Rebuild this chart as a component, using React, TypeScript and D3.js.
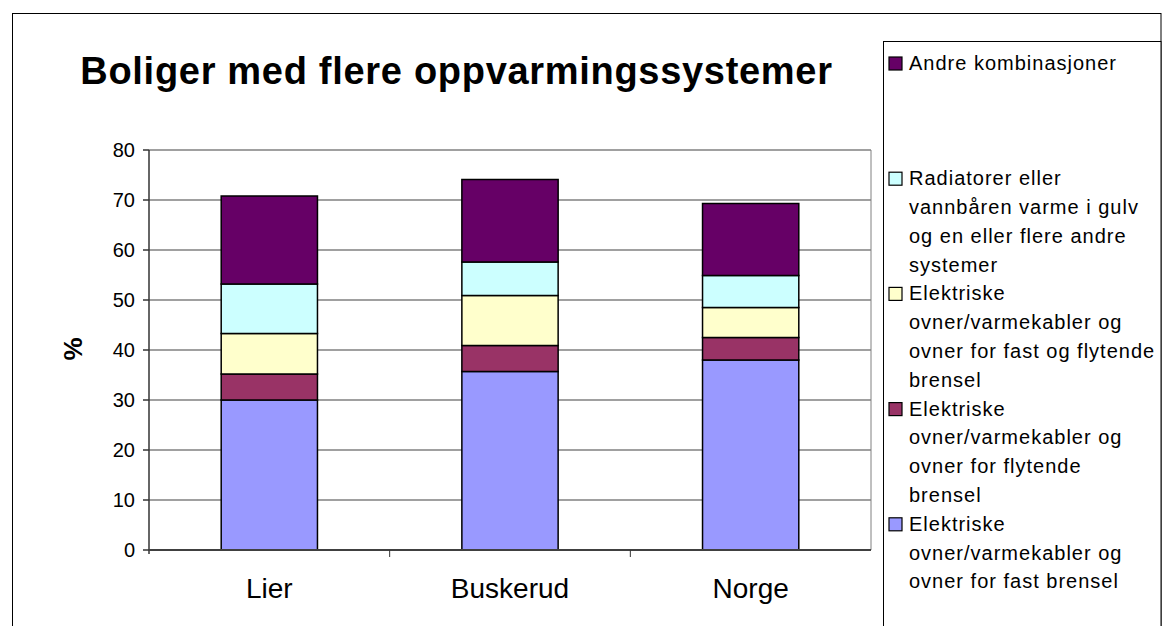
import React from "react";
import * as d3 from "d3";

const categories = ["Lier", "Buskerud", "Norge"];
const seriesNames = [
  "Elektriske ovner/varmekabler og ovner for fast brensel",
  "Elektriske ovner/varmekabler og ovner for flytende brensel",
  "Elektriske ovner/varmekabler og ovner for fast og flytende brensel",
  "Radiatorer eller vannbåren varme i gulv og en eller flere andre systemer",
  "Andre kombinasjoner",
];
const elFast = [30.0, 35.7, 38.0];
const elFlytende = [5.2, 5.2, 4.5];
const elFastFlytende = [8.1, 10.0, 6.0];
const radiatorer = [9.9, 6.7, 6.4];
const andre = [17.6, 16.5, 14.4];
const yTicks = [0, 10, 20, 30, 40, 50, 60, 70, 80];
const colors = ["#9999FF", "#993366", "#FFFFCC", "#CCFFFF", "#660066"];

// legend entries, top to bottom, with line breaks as in the original
const legendLines = [
  ["Andre kombinasjoner"],
  ["Radiatorer eller", "vannbåren varme i gulv", "og en eller flere andre", "systemer"],
  ["Elektriske", "ovner/varmekabler og", "ovner for fast og flytende", "brensel"],
  ["Elektriske", "ovner/varmekabler og", "ovner for flytende", "brensel"],
  ["Elektriske", "ovner/varmekabler og", "ovner for fast brensel"],
];
const legendColorIdx = [4, 3, 2, 1, 0];

const W = 1167;
const H = 626;
const FONT = "'Liberation Sans', Arial, sans-serif";

export default function App() {
  const left = 149, right = 871, top = 150, bottom = 550;
  const seriesArrays = [elFast, elFlytende, elFastFlytende, radiatorer, andre];
  const rows = categories.map((c, i) => {
    const r: any = { cat: c };
    seriesArrays.forEach((arr, k) => (r["s" + k] = arr[i]));
    return r;
  });
  const keys = seriesArrays.map((_, k) => "s" + k);
  const stacked = d3.stack().keys(keys)(rows);

  const x = d3.scaleBand().domain(categories).range([left, right]).paddingInner(0.6).paddingOuter(0.3);
  const y = d3.scaleLinear().domain([0, 80]).range([bottom, top]);
  const step = x.step();

  const lineH = 28.8;
  const slotH = 4 * lineH;
  const firstBaseline = 70;

  return (
    <svg width={W} height={H} style={{ position: "absolute", left: 0, top: 0, background: "#fff" }} fontFamily={FONT}>
      <rect x={0} y={0} width={W} height={H} fill="#fff" />
      {/* outer chart border */}
      <rect x={12.5} y={13.5} width={1148.5} height={640} fill="none" stroke="#000" strokeWidth={1} />
      {/* title */}
      <text x={456.5} y={84} textAnchor="middle" fontSize={38} fontWeight="bold" letterSpacing={0.7}>
        Boliger med flere oppvarmingssystemer
      </text>
      {/* gridlines */}
      {yTicks.map((t) => (
        <line key={"g" + t} x1={left} x2={right} y1={y(t)} y2={y(t)} stroke="#808080" strokeWidth={1.5} />
      ))}
      {/* plot area right border */}
      <line x1={right} x2={right} y1={top} y2={bottom} stroke="#808080" strokeWidth={1} />
      {/* bars */}
      {stacked.map((layer, k) =>
        layer.map((d, i) => (
          <rect
            key={k + "-" + i}
            x={x(categories[i])!}
            y={y(d[1])}
            width={x.bandwidth()}
            height={y(d[0]) - y(d[1])}
            fill={colors[k]}
            stroke="#000"
            strokeWidth={1.5}
          />
        ))
      )}
      {/* y axis */}
      <line x1={left} x2={left} y1={top} y2={bottom + 4} stroke="#333" strokeWidth={1.5} />
      {yTicks.map((t) => (
        <g key={"t" + t}>
          <line x1={left - 6} x2={left} y1={y(t)} y2={y(t)} stroke="#333" strokeWidth={1.5} />
          <text x={135} y={y(t) + 7} textAnchor="end" fontSize={20}>
            {t}
          </text>
        </g>
      ))}
      {/* x axis */}
      <line x1={left} x2={right} y1={bottom} y2={bottom} stroke="#404040" strokeWidth={2} />
      {categories.slice(1).map((c) => (
        <line key={"xt" + c} x1={x(c)! - step * 0.3} x2={x(c)! - step * 0.3} y1={bottom} y2={bottom + 7} stroke="#333" strokeWidth={1} />
      ))}
      {categories.map((c) => (
        <text key={"xl" + c} x={x(c)! + x.bandwidth() / 2} y={598} textAnchor="middle" fontSize={28}>
          {c}
        </text>
      ))}
      {/* y axis title */}
      <text transform="translate(82,349) rotate(-90)" textAnchor="middle" fontSize={26} fontWeight="bold">
        %
      </text>
      {/* legend */}
      <rect x={883.5} y={41.5} width={277.5} height={620} fill="#fff" stroke="#000" strokeWidth={1} />
      {legendLines.map((lines, i) => {
        const by = firstBaseline + i * slotH;
        return (
          <g key={"lg" + i}>
            <rect x={889} y={by - 13} width={13} height={13} fill={colors[legendColorIdx[i]]} stroke="#000" strokeWidth={1.2} />
            {lines.map((ln, j) => (
              <text key={j} x={909} y={by + j * lineH} fontSize={20} letterSpacing={1}>
                {ln}
              </text>
            ))}
          </g>
        );
      })}
    </svg>
  );
}
